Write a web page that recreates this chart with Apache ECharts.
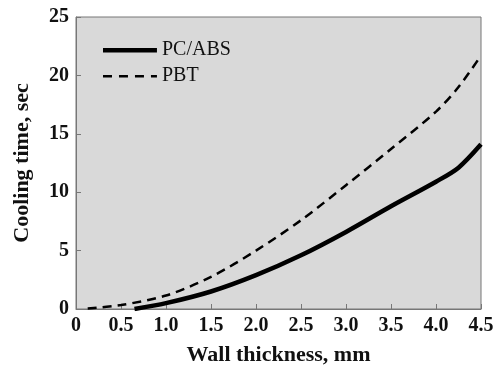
<!DOCTYPE html>
<html><head><meta charset="utf-8">
<script src="https://cdn.jsdelivr.net/npm/echarts@6/dist/echarts.min.js"></script>
<style>html,body{margin:0;padding:0;background:#fff}#c{width:494px;height:367px}</style>
</head><body><div id="c"></div>
<script>
const pcabsX = [0.65, 1.0, 1.5, 2.0, 2.5, 3.0, 3.5, 4.0, 4.25, 4.5];
const pcabsY = [0.0, 0.5, 1.5, 2.9, 4.6, 6.6, 8.8, 10.9, 12.1, 14.1];
const pbtX = [0.13, 0.5, 1.0, 1.5, 2.0, 2.5, 3.0, 3.5, 4.0, 4.25, 4.5];
const pbtY = [0.05, 0.34, 1.15, 2.75, 5.0, 7.6, 10.6, 13.7, 16.9, 19.0, 21.7];
const xTickLabels = ['0','0.5','1.0','1.5','2.0','2.5','3.0','3.5','4.0','4.5'];
const yTickLabels = ['0','5','10','15','20','25'];
const seriesNames = ['PC/ABS','PBT'];

const chart = echarts.init(document.getElementById('c'));
const serif = '"Liberation Serif", "DejaVu Serif", serif';
const solidIcon = 'path://M0,0h0.01v0.01h-0.01zM0,3h54v4.5h-54zM54,10h0.01v0.01h-0.01z';
const dashIcon = 'path://M0,0h0.01v0.01h-0.01zM0,4h9v2.5h-9zM16,4h9v2.5h-9zM32,4h9v2.5h-9zM48,4h6v2.5h-6zM54,10h0.01v0.01h-0.01z';
chart.setOption({
  animation: false,
  backgroundColor: '#fff',
  grid: {left: 76, right: 13, top: 17, bottom: 58, containLabel: false, outerBoundsMode: 'none',
    show: true, backgroundColor: '#d9d9d9', borderColor: '#777', borderWidth: 1},
  legend: {
    data: [{name: seriesNames[0], icon: solidIcon}, {name: seriesNames[1], icon: dashIcon}],
    orient: 'vertical', left: 98, top: 35, itemWidth: 54, itemHeight: 10, itemGap: 6,
    textStyle: {fontFamily: serif, fontSize: 20, color: '#111', fontWeight: 'normal'}
  },
  xAxis: {
    type: 'value', min: 0, max: 4.5, interval: 0.5,
    name: 'Wall thickness, mm', nameLocation: 'middle', nameGap: 35,
    nameTextStyle: {fontFamily: serif, fontSize: 22, fontWeight: 'bold', color: '#111'},
    axisLine: {show: true, lineStyle: {color: '#777'}},
    axisTick: {inside: true, length: 5, lineStyle: {color: '#777'}},
    axisLabel: {fontFamily: serif, fontSize: 20, fontWeight: 'bold', color: '#111', margin: 7,
      formatter: (v) => xTickLabels[Math.round(v / 0.5)]},
    splitLine: {show: false}
  },
  yAxis: {
    type: 'value', min: 0, max: 25, interval: 5,
    name: 'Cooling time, sec', nameLocation: 'middle', nameGap: 43,
    nameTextStyle: {fontFamily: serif, fontSize: 22, fontWeight: 'bold', color: '#111'},
    axisLine: {show: true, lineStyle: {color: '#777'}},
    axisTick: {inside: true, length: 5, lineStyle: {color: '#777'}},
    axisLabel: {fontFamily: serif, fontSize: 20, fontWeight: 'bold', color: '#111', margin: 7,
      formatter: (v) => yTickLabels[Math.round(v / 5)]},
    splitLine: {show: false}
  },
  series: [
    {name: seriesNames[0], type: 'line', smooth: 0.3, symbol: 'none',
     data: pcabsX.map((x, i) => [x, pcabsY[i]]),
     lineStyle: {color: '#000', width: 4.5}, itemStyle: {color: '#000'}},
    {name: seriesNames[1], type: 'line', smooth: 0.3, symbol: 'none',
     data: pbtX.map((x, i) => [x, pbtY[i]]),
     lineStyle: {color: '#000', width: 2.5, type: [9, 6]}, itemStyle: {color: '#000'}}
  ]
});
</script></body></html>
